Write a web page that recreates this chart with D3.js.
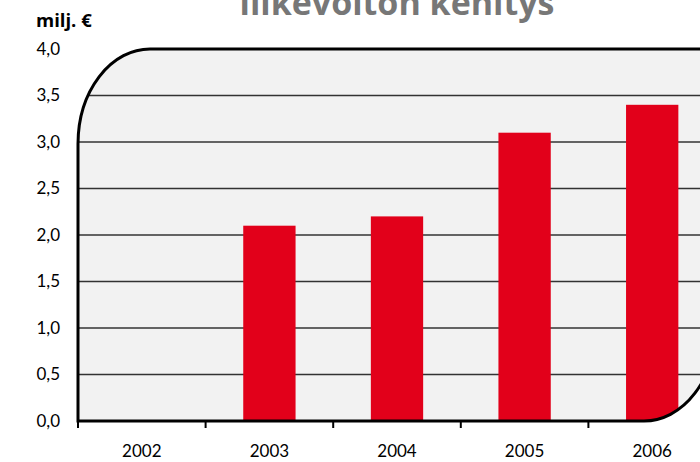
<!DOCTYPE html>
<html lang="fi">
<head>
    <meta charset="utf-8">
    <style>
        body { margin: 0; background: #fff; }
        svg { display: block; }
        text { font-family: Lato, "Open Sans", sans-serif; fill: #000; }
    </style>
</head>
<body>
    <svg width="700" height="462"></svg>
    <script src="https://cdn.jsdelivr.net/npm/d3@7"></script>
    <script>
        // Data
        const years = ["2002", "2003", "2004", "2005", "2006"];
        const profit = [null, 2.1, 2.2, 3.1, 3.4];
        const yTicks = [0, 0.5, 1, 1.5, 2, 2.5, 3, 3.5, 4];
        const title = "liikevoiton kehitys";
        const unitLabel = "milj. €";

        const svg = d3.select("svg");

        const plotLeft = 78, plotRight = 716, plotTop = 49, plotBottom = 421;
        const x = d3.scaleBand().domain(years).range([plotLeft, plotRight])
            .paddingInner(0.59).paddingOuter(0.295);
        const y = d3.scaleLinear().domain([0, 4]).range([plotBottom, plotTop]);
        const fmt = d => d3.format(".1f")(d).replace(".", ",");

        // Frame: rounded top-left and bottom-right corners
        const rx = 72, ry = 95;
        const framePath = `M ${plotLeft} ${plotBottom} L ${plotLeft} ${plotTop + ry}
            A ${rx} ${ry} 0 0 1 ${plotLeft + rx} ${plotTop} L ${plotRight} ${plotTop}
            L ${plotRight} ${plotBottom - ry} A ${rx} ${ry} 0 0 1 ${plotRight - rx} ${plotBottom} Z`;

        svg.append("defs").append("clipPath").attr("id", "frame")
            .append("path").attr("d", framePath);

        svg.append("path").attr("d", framePath).attr("fill", "#f2f2f2");

        const plot = svg.append("g").attr("clip-path", "url(#frame)");

        // Gridlines
        plot.selectAll("line.grid").data(yTicks.filter(d => d > 0 && d < 4)).enter()
            .append("line").attr("class", "grid")
            .attr("x1", plotLeft).attr("x2", plotRight)
            .attr("y1", d => y(d)).attr("y2", d => y(d))
            .attr("stroke", "#333").attr("stroke-width", 1.5);

        // Bars
        plot.selectAll("rect.bar").data(years.map((d, i) => ({ year: d, v: profit[i] })).filter(d => d.v != null))
            .enter().append("rect").attr("class", "bar")
            .attr("x", d => x(d.year)).attr("width", x.bandwidth())
            .attr("y", d => y(d.v)).attr("height", d => y(0) - y(d.v))
            .attr("fill", "#e2001a");

        // Frame outline
        svg.append("path").attr("d", framePath)
            .attr("fill", "none").attr("stroke", "#000").attr("stroke-width", 3);

        // X axis ticks at band boundaries
        const gap = (x.step() - x.bandwidth()) / 2;
        const bounds = years.map(d => x(d) - gap).concat([x(years[years.length - 1]) + x.bandwidth() + gap]);
        svg.selectAll("line.xtick").data(bounds).enter()
            .append("line").attr("class", "xtick")
            .attr("x1", d => d).attr("x2", d => d)
            .attr("y1", plotBottom).attr("y2", plotBottom + 7)
            .attr("stroke", "#000").attr("stroke-width", 2);

        svg.selectAll("text.xlab").data(years).enter()
            .append("text").attr("class", "xlab")
            .attr("x", d => x(d) + x.bandwidth() / 2).attr("y", 457)
            .attr("text-anchor", "middle").attr("font-size", 17)
            .text(d => d);

        // Y tick labels
        svg.selectAll("text.ylab").data(yTicks).enter()
            .append("text").attr("class", "ylab")
            .attr("x", 60).attr("y", d => y(d)).attr("dy", "0.35em")
            .attr("text-anchor", "end").attr("font-size", 17)
            .text(fmt);

        svg.append("text").attr("x", 36).attr("y", 27)
            .attr("font-size", 18.5).attr("font-weight", "bold")
            .style("font-family", "'Open Sans', sans-serif")
            .text(unitLabel);

        // Title (cut off at the top, as in the original)
        svg.append("text").attr("x", (plotLeft + plotRight) / 2).attr("y", 15)
            .attr("text-anchor", "middle").attr("font-size", 34)
            .attr("font-weight", "bold").style("fill", "#777")
            .style("font-family", "'Open Sans', sans-serif")
            .text(title);
    </script>
</body>
</html>
